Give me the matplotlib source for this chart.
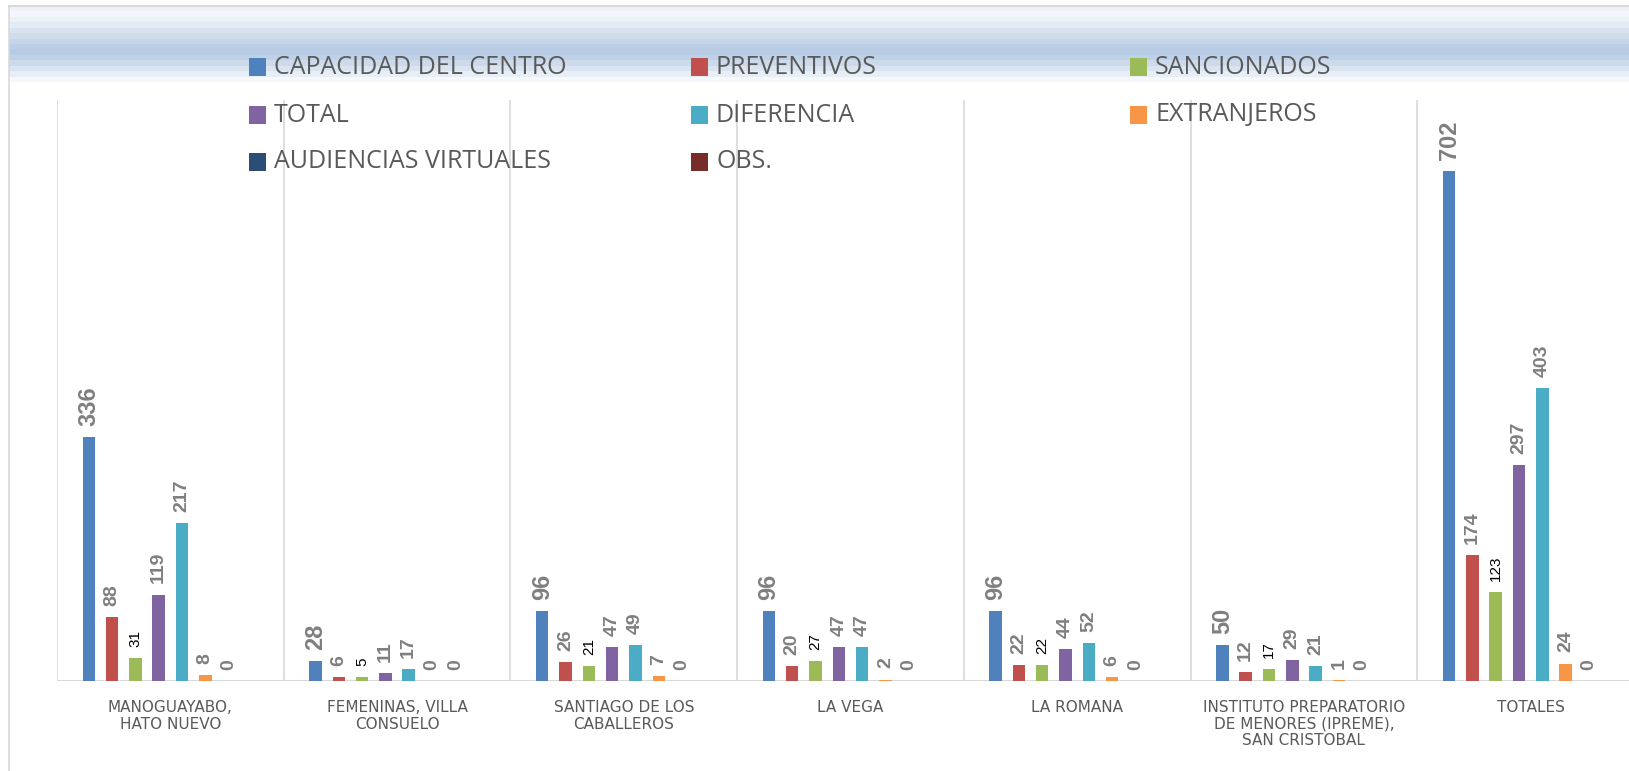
import matplotlib
matplotlib.use("Agg")
import matplotlib.pyplot as plt
from matplotlib import font_manager
from matplotlib.patches import Rectangle
from matplotlib.lines import Line2D
import numpy as np
import textwrap

# ---------------- data ----------------
categories = [
    "MANOGUAYABO, HATO NUEVO",
    "FEMENINAS, VILLA CONSUELO",
    "SANTIAGO DE LOS CABALLEROS",
    "LA VEGA",
    "LA ROMANA",
    "INSTITUTO PREPARATORIO DE MENORES (IPREME), SAN CRISTOBAL",
    "TOTALES",
]
series_names = ["CAPACIDAD DEL CENTRO", "PREVENTIVOS", "SANCIONADOS", "TOTAL",
                "DIFERENCIA", "EXTRANJEROS", "AUDIENCIAS VIRTUALES", "OBS."]
capacidad = [336, 28, 96, 96, 96, 50, 702]
preventivos = [88, 6, 26, 20, 22, 12, 174]
sancionados = [31, 5, 21, 27, 22, 17, 123]
total = [119, 11, 47, 47, 44, 29, 297]
diferencia = [217, 17, 49, 47, 52, 21, 403]
extranjeros = [8, 0, 7, 2, 6, 1, 24]
audiencias = [0, 0, 0, 0, 0, 0, 0]
obs = [None, None, None, None, None, None, None]

series_values = [capacidad, preventivos, sancionados, total,
                 diferencia, extranjeros, audiencias, obs]
colors = ["#4F81BD", "#C0504D", "#9BBB59", "#8064A2",
          "#4BACC6", "#F79646", "#2C4D75", "#772C2A"]

# label font: narrow if available
try:
    font_manager.findfont("Liberation Sans Narrow", fallback_to_default=False)
    label_family = "Liberation Sans Narrow"
    narrow = True
except Exception:
    label_family = "Liberation Sans"
    narrow = False

# ---------------- figure ----------------
W, H = 1629, 771
fig = plt.figure(figsize=(W / 100, H / 100), dpi=100)
fig.patch.set_facecolor("white")

# banner gradient at top
band_colors = ["#EEF3F8", "#F3F6FA", "#EDF2F8", "#E4EBF4", "#D9E3EF", "#CFDCEB",
               "#C5D5E8", "#BBCEE5", "#B6CAE3", "#BFD1E7", "#CCDAEB", "#D9E4F0",
               "#E8EEF6", "#F5F8FC"]
ax_b = fig.add_axes([9 / W, 1 - 82 / H, (W - 9) / W, 76 / H])
rgb = np.array([[matplotlib.colors.to_rgb(c)] for c in band_colors])
ax_b.imshow(rgb, aspect="auto", interpolation="nearest")
ax_b.axis("off")

# chart border lines (left and top)
fig.add_artist(Line2D([8.5 / W, 8.5 / W], [0, 1 - 5.5 / H], transform=fig.transFigure,
                      color="#D9D9D9", lw=1.2))
fig.add_artist(Line2D([8.5 / W, 1], [1 - 5.5 / H, 1 - 5.5 / H], transform=fig.transFigure,
                      color="#D9D9D9", lw=1.5))

# main axes (extends slightly past the right edge, like the reference)
left_px, right_px, top_px, bot_px = 57, 1644, 100, 681
ax = fig.add_axes([left_px / W, 1 - bot_px / H, (right_px - left_px) / W, (bot_px - top_px) / H])
ax.patch.set_alpha(0)
ax.set_xlim(0, len(categories))
ax.set_ylim(0, 800)
for s in ax.spines.values():
    s.set_visible(False)
ax.set_yticks([])

# vertical category separators
ax.vlines(np.arange(len(categories) + 1), 0, 800, color="#D9D9D9", lw=1.2, zorder=0)
ax.axhline(0, color="#D9D9D9", lw=1.5, zorder=1)

if narrow:
    big, mid, small = 20, 16, 11
else:
    big, mid, small = 17, 14, 11

step = 0.1028
bw = 0.055
base = np.arange(len(categories)) + 0.5
for j, (vals, col) in enumerate(zip(series_values, colors)):
    xs = base + (j - 3.5) * step
    for x, v in zip(xs, vals):
        if v is None:
            continue
        ax.bar(x, v, width=bw, color=col, zorder=2)
        if j == 0:
            kw = dict(fontsize=big, fontweight="bold", color="#7F7F7F")
        elif j == 2:
            kw = dict(fontsize=small, color="black")
        else:
            kw = dict(fontsize=mid, fontweight="bold", color="#7F7F7F")
        ax.annotate(str(v), (x, v), xytext=(0, 8), textcoords="offset points",
                    rotation=90, ha="center", va="bottom",
                    family=label_family, **kw)

tick_labels = [textwrap.fill(c, 16) if len(c) < 30 else textwrap.fill(c, 22)
               for c in categories]
ax.set_xticks(base)
ax.set_xticklabels(tick_labels, fontsize=11, color="#595959", family="DejaVu Sans",
                   linespacing=1.1)
ax.tick_params(axis="x", length=0, pad=14)

# legend (3 columns x 3 rows), drawn in figure pixel coordinates
col_x = [249, 691, 1130]
row_y = [67, 115, 162]
msize = 17
for j, (name, col) in enumerate(zip(series_names, colors)):
    cx = col_x[j % 3]
    cy = row_y[j // 3]
    fig.add_artist(Rectangle((cx / W, 1 - (cy + msize / 2) / H), msize / W, msize / H,
                             transform=fig.transFigure, facecolor=col, edgecolor="none"))
    fig.text((cx + 25) / W, 1 - cy / H, name, fontsize=18, family="Open Sans",
             color="#595959", ha="left", va="center")

fig.savefig("out.png", dpi=100)
